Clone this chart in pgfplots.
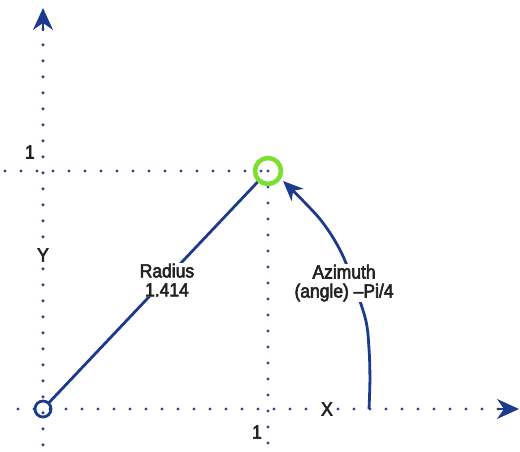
\documentclass[border=0pt]{standalone}
\usepackage{pgfplots}
\pgfplotsset{compat=1.18}
\usetikzlibrary{arrows.meta}
\usepackage{fontspec}
\setmainfont{Liberation Sans}[FakeBold=3, FakeStretch=0.92]
\definecolor{navy}{HTML}{1C3A8E}
\definecolor{dotc}{HTML}{34428C}
\definecolor{lgreen}{HTML}{7AE02C}
\definecolor{txt}{HTML}{222222}
\begin{document}
\begin{tikzpicture}
\begin{axis}[
  width=520pt, height=452pt, scale only axis,
  xmin=-0.1911, xmax=2.12, ymin=-0.1807, ymax=1.7185,
  hide axis, clip=false,
]
\path (rel axis cs:0,0) rectangle (rel axis cs:1,1);
% dotted axes and grid lines
\addplot[dotc, line width=3.4pt, line cap=round, dash pattern=on 0pt off 16pt] coordinates {(-0.111,0) (2.05,0)};
\addplot[dotc, line width=3.4pt, line cap=round, dash pattern=on 0pt off 16pt] coordinates {(0,-0.151) (0,1.60)};
\addplot[dotc, line width=3.4pt, line cap=round, dash pattern=on 0pt off 16pt] coordinates {(-0.169,1) (1,1)};
\addplot[dotc, line width=3.4pt, line cap=round, dash pattern=on 0pt off 16pt] coordinates {(1,1) (1,-0.151)};
% arrow heads
\addplot[navy, line width=1.5pt, -{Stealth[length=22pt, width=20pt, inset=7pt]}] coordinates {(2.02,0) (2.1155,0)};
\addplot[navy, line width=1.5pt, -{Stealth[length=22pt, width=20pt, inset=7pt]}] coordinates {(0,1.59) (0,1.685)};
% radius
\addplot[navy, line width=2.8pt, shorten <=9pt, shorten >=15pt] coordinates {(0,0) (1,1)};
% azimuth arc
\addplot[navy, line width=2.8pt, smooth, -{Stealth[length=20pt, width=17pt, inset=6pt]}] coordinates {
(1.449,0) (1.453,0.122) (1.449,0.252) (1.430,0.390) (1.333,0.643) (1.231,0.798) (1.067,0.958)};
% circles
\addplot[only marks, mark=o, mark size=8pt, mark options={draw=navy, line width=2.8pt}] coordinates {(0,0)};
\addplot[only marks, mark=o, mark size=13pt, mark options={draw=lgreen, line width=4.5pt}] coordinates {(1,1)};
% labels
\node[fill=white, inner sep=1pt, align=center, text=txt, font=\fontsize{19}{19}\selectfont] at (axis cs:0.551,0.542) {Radius\\1.414};
\node[fill=white, inner sep=1pt, align=center, text=txt, font=\fontsize{19}{19}\selectfont] at (axis cs:1.338,0.529) {Azimuth\\(angle) \textendash Pi/4};
\node[fill=white, inner sep=1pt, text=txt, font=\fontsize{19}{19}\selectfont] at (axis cs:0,0.647) {Y};
\node[fill=white, inner sep=1pt, text=txt, font=\fontsize{19}{19}\selectfont] at (axis cs:1.262,0) {X};
\node[inner sep=0pt, text=txt, font=\fontsize{19}{19}\selectfont] at (axis cs:-0.058,1.08) {1};
\node[inner sep=0pt, text=txt, font=\fontsize{19}{19}\selectfont] at (axis cs:0.951,-0.097) {1};
\end{axis}
\end{tikzpicture}
\end{document}
